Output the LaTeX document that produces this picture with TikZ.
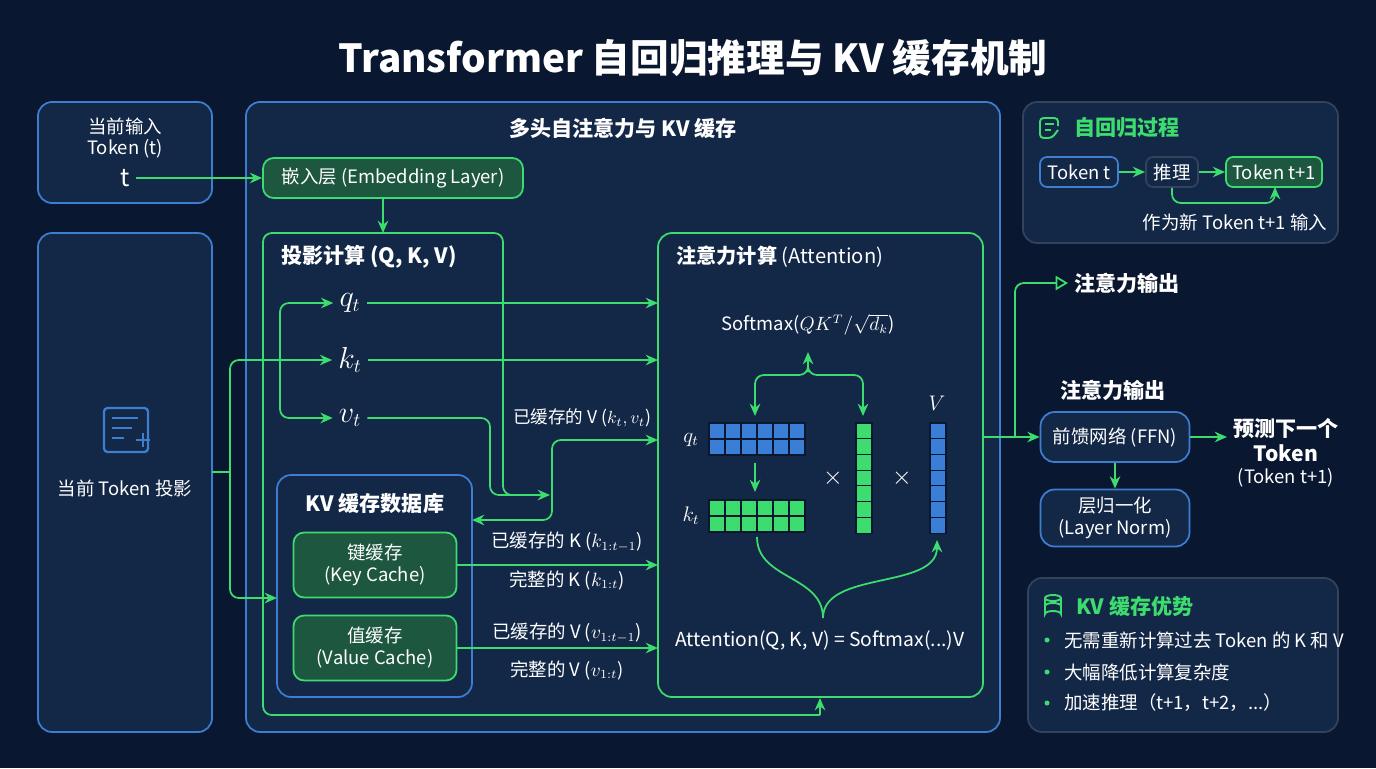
\documentclass[tikz,border=0pt]{standalone}
\usepackage{fontspec}
\setmainfont{Noto Sans CJK SC}
\usetikzlibrary{arrows.meta,positioning}
\definecolor{bgc}{HTML}{0A1730}
\definecolor{panel}{HTML}{132747}
\definecolor{bluel}{HTML}{3E7ED0}
\definecolor{greenl}{HTML}{3DDC6E}
\definecolor{greenf}{HTML}{1E5740}
\definecolor{grayl}{HTML}{34435C}
\definecolor{cellb}{HTML}{3A7FD5}
\definecolor{cellg}{HTML}{3DDC6E}
\tikzset{
  bbox/.style={draw=bluel, line width=1pt, rounded corners=8pt, fill=panel},
  gbox/.style={draw=greenl, line width=1pt, rounded corners=6pt, fill=greenf, text=white, align=center},
  flow/.style={draw=greenl, line width=1pt, rounded corners=5pt},
  arr/.style={flow, -{Stealth[length=7pt,width=6pt]}},
  txt/.style={text=white, font=\fontsize{10.5}{12.5}\selectfont, align=center},
  head/.style={text=white, font=\fontsize{12}{14}\selectfont\bfseries},
  mth/.style={text=white, font=\fontsize{16}{16}\selectfont},
  cell/.style={draw=bgc, line width=0.6pt, minimum size=0.32cm, inner sep=0pt}
}
\begin{document}
\begin{tikzpicture}[x=0.02cm, y=-0.02cm]
  \fill[bgc] (0,0) rectangle (1376,768);
  \useasboundingbox (0,0) rectangle (1376,768);
  % title
  \node[text=white, font=\fontsize{22}{24}\selectfont\bfseries] (title) at (693,58) {Transformer 自回归推理与 KV 缓存机制};

  % left column
  \draw[bbox] (38,102) rectangle (212,203);
  \node[txt] (inlab) at (125,138) {当前输入\\Token (t)};
  \node[txt, font=\fontsize{14}{14}\selectfont] (tin) at (125,178) {t};
  \draw[bbox] (38,233) rectangle (212,732);
  \coordinate (projout) at (212,472);
  \begin{scope}[draw=bluel, line width=1.3pt]
    \draw[rounded corners=2pt] (104,408) rectangle (148,452);
    \draw (112,418) -- (138,418) (112,428) -- (132,428) (112,438) -- (124,438);
    \draw (136,440) -- (150,440) (143,433) -- (143,447);
  \end{scope}
  \node[txt] (projlab) at (125,488) {当前 Token 投影};

  % main panel
  \draw[bbox] (246,102) rectangle (1000,732);
  \node[head] (mainlab) at (623,128) {多头自注意力与 KV 缓存};
  \node[gbox, minimum width=5.2cm, minimum height=0.8cm, font=\fontsize{10.5}{12}\selectfont] (emb) at (393,178) {嵌入层 (Embedding Layer)};
  \draw[arr] (tin.east) -- (emb.west);

  % projection frame
  \coordinate (pin) at (383,233);
  \draw[arr] (emb.south -| pin) -- (pin);
  \draw[flow] (820,715) -- (263,715) -- (263,233) -- (503,233) -- (503,495) -- (530,495);
  \draw[arr] (820,715) -- (820,698);
  \node[head, anchor=west] (projhead) at (275,257) {投影计算 (Q, K, V)};
  \node[mth] (q) at (350,303) {$q_t$};
  \node[mth] (k) at (350,360) {$k_t$};
  \node[mth] (v) at (350,418) {$v_t$};

  % attention box
  \draw[draw=greenl, line width=1pt, rounded corners=8pt] (658,233) rectangle (983,697);
  \node[text=white, anchor=west, font=\fontsize{11.5}{13}\selectfont] (atthead) at (670,257) {\textbf{注意力计算} (Attention)};
  \coordinate (attq) at (658,303);
  \coordinate (attk) at (658,360);
  \draw[arr] (q.east) -- (attq);
  \draw[arr] (k.east) -- (attk);
  \draw[arr] (v.east) -- (490,418) -- (490,495) -- (550,495);
  \draw[flow, {Stealth[length=7pt,width=6pt]}-{Stealth[length=7pt,width=6pt]}] (472,520) -- (552,520) -- (552,440) -- (658,440);
  \node[txt, font=\fontsize{10}{11}\selectfont] (cachedv) at (582,418) {已缓存的 V ($k_t, v_t$)};

  % left splits
  \coordinate (split) at (230,472);
  \draw[flow] (projout) -- (split);
  \draw[arr] (split) -- (230,360) -- (k.west);
  \coordinate (qv) at (280,360);
  \draw[arr] (qv) -- (280,303) -- (q.west);
  \draw[arr] (qv) -- (280,418) -- (v.west);

  % KV database
  \draw[bbox] (277,475) rectangle (472,697);
  \node[head] (dbhead) at (375,503) {KV 缓存数据库};
  \draw[arr] (split) -- (230,598) -- (277,598);
  \node[gbox, minimum width=3.26cm, minimum height=1.3cm, font=\fontsize{10.5}{12.5}\selectfont] (kc) at (375,565) {键缓存\\(Key Cache)};
  \node[gbox, minimum width=3.26cm, minimum height=1.3cm, font=\fontsize{10.5}{12.5}\selectfont] (vc) at (375,648) {值缓存\\(Value Cache)};
  \draw[arr] (kc.east) -- (kc.east -| attq);
  \draw[arr] (vc.east) -- (vc.east -| attq);
  \node[txt] (kl1) at (567,542) {已缓存的 K ($k_{1:t-1}$)};
  \node[txt] (kl2) at (567,580) {完整的 K ($k_{1:t}$)};
  \node[txt] (vl1) at (567,633) {已缓存的 V ($v_{1:t-1}$)};
  \node[txt] (vl2) at (567,670) {完整的 V ($v_{1:t}$)};

  % attention internals
  \node[txt] (soft) at (808,325) {Softmax($QK^T/\sqrt{d_k}$)};
  \foreach \i in {0,...,5} {
    \foreach \j in {0,1} {
      \node[cell, fill=cellb] at (717+16*\i,431+16*\j) {};
      \node[cell, fill=cellg] at (717+16*\i,508+16*\j) {};
    }
  }
  \foreach \j in {0,...,6} {
    \node[cell, fill=cellg] (gc\j) at (864,431+15.7*\j) {};
    \node[cell, fill=cellb] (bc\j) at (938,431+15.7*\j) {};
  }
  \node[mth, font=\fontsize{12}{12}\selectfont] (ql) at (691,440) {$q_t$};
  \node[mth, font=\fontsize{12}{12}\selectfont] (kl) at (691,516) {$k_t$};
  \node[mth, font=\fontsize{12}{12}\selectfont] (vl) at (937,403) {$V$};
  \node[txt, font=\fontsize{14}{14}\selectfont] (x1) at (833,478) {$\times$};
  \node[txt, font=\fontsize{14}{14}\selectfont] (x2) at (902,478) {$\times$};
  \draw[arr] (755,463) -- (755,492);
  \draw[arr] (808,372) -- (808,352);
  \draw[arr] (808,372) -- (808,375) -- (755,375) -- (755,416);
  \draw[arr] (808,372) -- (808,375) -- (863,375) -- (863,416);
  \coordinate (bj) at (823,618);
  \draw[flow] (757,537) .. controls (757,580) and (823,575) .. (bj);
  \draw[arr] (bj) .. controls (823,570) and (937,590) .. (937,540);
  \node[txt, font=\fontsize{11}{13}\selectfont] (attf) at (820,640) {Attention(Q, K, V) = Softmax(...)V};

  % outputs
  \node[bbox, minimum width=2.98cm, minimum height=1cm, txt] (ffn) at (1115,437) {前馈网络 (FFN)};
  \node[bbox, minimum width=2.98cm, minimum height=1.14cm, txt] (ln) at (1115,518) {层归一化\\(Layer Norm)};
  \coordinate (attout) at (983,437);
  \coordinate (br) at (1015,437);
  \draw[arr] (attout) -- (ffn.west);
  \node[head, anchor=west] (outlab) at (1068,283) {注意力输出};
  \draw[flow, -{Triangle[open,length=7pt,width=8pt]}] (br) -- (1015,283) -- (outlab.west);
  \node[head] (outlab2) at (1113,390) {注意力输出};
  \draw[arr] (ffn.south) -- (ln.north);
  \node[txt, font=\fontsize{12}{14}\selectfont, anchor=west] (pred) at (1227,453) {\textbf{预测下一个}\\\textbf{Token}\\[-1pt]{\fontsize{10.5}{12}\selectfont (Token t+1)}};
  \draw[arr] (ffn.east) -- (pred.west |- ffn.east);

  % autoregressive panel
  \draw[draw=grayl, line width=1pt, rounded corners=8pt, fill=panel] (1023,102) rectangle (1338,243);
  \begin{scope}[draw=greenl, line width=1.1pt]
    \draw[rounded corners=2pt] (1058,126) -- (1058,118) -- (1040,118) -- (1040,138) -- (1052,138) -- (1058,130);
    \draw (1045,124) -- (1054,124) (1045,130) -- (1051,130);
  \end{scope}
  \node[head, text=greenl, anchor=west] (arhead) at (1068,128) {自回归过程};
  \node[draw=bluel, fill=panel, rounded corners=4pt, line width=1pt, minimum width=1.56cm, minimum height=0.6cm, txt] (tt) at (1079,172) {Token t};
  \node[draw=grayl, fill=panel, rounded corners=4pt, line width=1pt, minimum width=1.04cm, minimum height=0.6cm, txt] (inf) at (1172,172) {推理};
  \node[draw=greenl, fill=greenf, rounded corners=4pt, line width=1pt, minimum width=1.92cm, minimum height=0.6cm, txt] (tt1) at (1274,172) {Token t+1};
  \draw[arr] (tt) -- (inf);
  \draw[arr] (inf) -- (tt1);
  \draw[arr] (inf.south) -- (1172,203) -- (1275,203) -- (1275,187);
  \node[txt] (feed) at (1235,222) {作为新 Token t+1 输入};

  % KV advantage panel
  \draw[draw=grayl, line width=1pt, rounded corners=8pt, fill=panel] (1028,578) rectangle (1338,732);
  \begin{scope}[draw=greenl, line width=1.1pt]
    \draw (1045,598) -- (1045,614) arc[start angle=180, end angle=360, x radius=8, y radius=3] -- (1061,598);
    \draw (1053,598) ellipse[x radius=8, y radius=3];
    \draw (1045,606) arc[start angle=180, end angle=360, x radius=8, y radius=3];
  \end{scope}
  \node[head, text=greenl, anchor=west] (advhead) at (1070,606) {KV 缓存优势};
  \foreach \yy in {640,672,703} \fill[greenl] (1047,\yy) circle (2.5);
  \node[txt, anchor=west] (a1) at (1058,640) {无需重新计算过去 Token 的 K 和 V};
  \node[txt, anchor=west] (a2) at (1058,672) {大幅降低计算复杂度};
  \node[txt, anchor=west] (a3) at (1058,703) {加速推理（t+1，t+2，...）};
\end{tikzpicture}
\end{document}
